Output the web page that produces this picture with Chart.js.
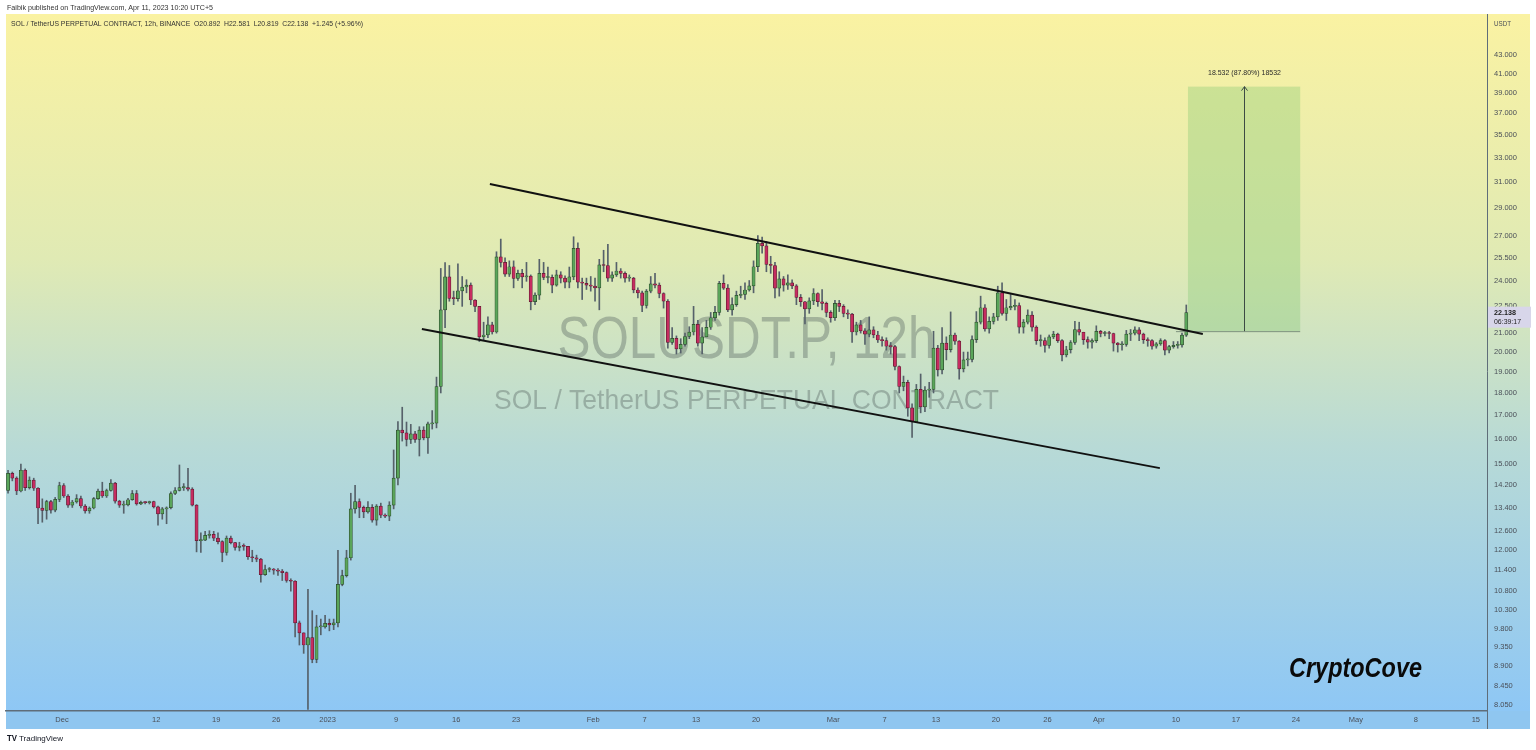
<!DOCTYPE html>
<html>
<head>
<meta charset="utf-8">
<script src="https://cdn.jsdelivr.net/npm/chart.js@4.4.0/dist/chart.umd.min.js"></script>
<style>
  html, body { margin: 0; padding: 0; background: #fff; }
  #wrap { position: relative; width: 1536px; height: 750px; }
</style>
</head>
<body>
<div id="wrap"><canvas id="chart" width="1536" height="750"></canvas></div>
<script>
// SOLUSDT.P 12h candles, first bar opens Nov 24 2022 17:00 (UTC+5)
const firstBar = Date.UTC(2022, 10, 24, 17);
const dayZero = Date.UTC(2022, 11, 1);
const firstOpen = 14.0;

const closes = [
  14.63, 14.45, 13.98, 14.75, 14.1, 14.38, 14.08, 13.38, 13.3, 13.6,
  13.31, 13.68, 14.18, 13.8, 13.48, 13.59, 13.71, 13.45, 13.28, 13.38,
  13.71, 13.98, 13.8, 14.0, 14.27, 13.62, 13.48, 13.49, 13.67, 13.89,
  13.52, 13.58, 13.57, 13.6, 13.42, 13.18, 13.35, 13.39, 13.89, 14.0,
  14.1, 14.1, 14.05, 13.48, 12.3, 12.32, 12.47, 12.5, 12.38, 12.27,
  11.93, 12.38, 12.24, 12.09, 12.13, 12.12, 11.8, 11.77, 11.73, 11.27,
  11.42, 11.43, 11.4, 11.37, 11.33, 11.1, 11.08, 9.95, 9.7, 9.4,
  9.58, 9.06, 9.85, 9.85, 9.94, 9.9, 9.95, 10.99, 11.24, 11.77,
  13.35, 13.6, 13.4, 13.25, 13.4, 12.97, 13.45, 13.14, 13.1, 13.48,
  14.45, 16.36, 16.24, 15.97, 16.2, 15.97, 16.36, 16.03, 16.62, 16.65,
  18.3, 22.3, 24.28, 22.97, 22.95, 23.42, 23.65, 23.77, 22.87, 22.5,
  20.8, 20.9, 21.45, 21.06, 25.56, 25.2, 24.45, 24.92, 24.18, 24.5,
  24.28, 24.33, 22.77, 23.16, 24.5, 24.24, 24.25, 23.77, 24.4, 24.2,
  23.95, 24.28, 26.13, 23.95, 23.88, 23.77, 23.7, 23.6, 25.04, 25.0,
  24.2, 24.4, 24.65, 24.5, 24.2, 24.2, 23.47, 23.3, 22.55, 23.4,
  23.85, 23.77, 23.26, 22.8, 20.5, 20.72, 20.16, 20.4, 20.82, 21.06,
  21.48, 20.47, 20.8, 21.32, 21.85, 22.15, 23.87, 23.58, 22.3, 22.6,
  23.15, 23.2, 23.47, 23.72, 24.92, 26.47, 26.3, 25.07, 25.0, 23.58,
  24.15, 23.77, 23.9, 23.72, 23.03, 22.77, 22.35, 22.82, 23.26, 22.77,
  22.67, 22.15, 21.85, 22.67, 22.5, 22.1, 22.05, 21.06, 21.45, 21.12,
  20.95, 21.18, 20.9, 20.63, 20.6, 20.3, 20.28, 19.27, 18.3, 18.5,
  17.32, 16.71, 18.17, 17.36, 18.13, 18.17, 20.2, 19.1, 20.47, 20.13,
  20.9, 20.57, 19.15, 19.6, 19.63, 20.65, 21.6, 22.42, 21.23, 21.65,
  21.9, 23.3, 22.1, 22.42, 22.5, 22.55, 21.33, 21.6, 22.0, 21.33,
  20.6, 20.6, 20.35, 20.8, 20.95, 20.6, 19.85, 20.12, 20.5, 21.2,
  21.05, 20.65, 20.52, 20.6, 21.1, 20.98, 21.02, 20.98, 20.47, 20.38,
  20.4, 20.95, 21.0, 21.18, 20.95, 20.65, 20.6, 20.3, 20.43, 20.6,
  20.1, 20.28, 20.35, 20.37, 20.892, 22.138
];

const highs = [
  14.75, 14.68, 14.5, 14.98, 14.8, 14.5, 14.45, 14.1, 13.7, 13.65,
  13.65, 13.75, 14.3, 14.25, 13.85, 13.65, 13.85, 13.8, 13.5, 13.42,
  13.75, 14.05, 14.3, 14.05, 14.4, 14.3, 13.65, 13.62, 13.72, 14.0,
  14.0, 13.62, 13.6, 13.62, 13.62, 13.45, 13.4, 13.42, 13.95, 14.1,
  14.95, 14.25, 14.82, 14.1, 13.5, 12.55, 12.6, 12.62, 12.6, 12.55,
  12.3, 12.45, 12.45, 12.25, 12.25, 12.2, 12.12, 12.0, 11.85, 11.75,
  11.55, 11.48, 11.45, 11.45, 11.42, 11.35, 11.15, 11.1, 10.0, 9.7,
  10.85, 10.27, 10.15, 10.05, 10.15, 10.05, 10.05, 12.0, 11.4, 12.0,
  13.9, 14.19, 13.7, 13.45, 13.6, 13.5, 13.5, 13.55, 13.18, 13.6,
  15.54, 16.72, 17.35, 16.7, 16.6, 16.3, 16.5, 16.5, 16.7, 17.2,
  18.75, 24.81, 25.18, 25.0, 23.4, 25.1, 24.3, 24.1, 23.9, 22.9,
  22.5, 21.6, 21.9, 21.6, 25.9, 26.76, 25.5, 25.3, 25.3, 24.7,
  24.75, 25.2, 24.4, 23.3, 25.4, 25.2, 24.9, 24.4, 24.7, 24.6,
  24.35, 24.9, 26.92, 26.5, 24.2, 24.2, 24.3, 24.2, 25.4, 26.0,
  26.4, 24.6, 25.2, 24.8, 24.6, 24.4, 24.25, 23.6, 23.4, 23.5,
  24.3, 24.5, 23.9, 23.3, 22.9, 21.3, 20.85, 20.7, 21.0, 21.35,
  22.5, 21.7, 21.3, 21.7, 22.15, 22.5, 24.0, 24.4, 23.8, 23.0,
  23.4, 23.7, 23.9, 24.05, 25.3, 27.0, 26.9, 26.6, 25.6, 25.2,
  24.6, 24.3, 24.4, 24.1, 23.8, 23.2, 22.8, 23.0, 23.55, 23.3,
  23.5, 22.75, 22.25, 22.85, 22.85, 22.6, 22.3, 22.1, 21.6, 21.7,
  21.25, 21.9, 21.35, 21.1, 20.8, 20.75, 20.5, 20.35, 19.3, 18.8,
  18.6, 17.5, 18.4, 18.9, 18.3, 18.5, 21.1, 20.35, 21.3, 20.8,
  22.18, 21.0, 20.6, 20.0, 20.0, 20.85, 22.2, 23.1, 22.6, 21.9,
  22.1, 23.7, 23.9, 22.9, 23.2, 22.9, 22.7, 21.75, 22.3, 22.2,
  21.4, 20.9, 20.75, 20.9, 21.1, 21.0, 20.65, 20.3, 20.6, 21.65,
  21.6, 21.05, 20.8, 20.7, 21.4, 21.15, 21.1, 21.1, 21.0, 20.5,
  20.55, 21.15, 21.2, 21.35, 21.3, 21.0, 20.75, 20.65, 20.5, 20.7,
  20.65, 20.35, 20.55, 20.55, 21.0, 22.581
];

const lows = [
  13.9, 14.35, 13.85, 13.95, 14.0, 14.05, 14.0, 12.85, 12.9, 13.0,
  13.2, 13.25, 13.6, 13.75, 13.4, 13.4, 13.55, 13.38, 13.2, 13.2,
  13.35, 13.68, 13.75, 13.75, 13.97, 13.55, 13.4, 13.2, 13.45, 13.65,
  13.48, 13.5, 13.52, 13.52, 13.38, 12.8, 13.0, 12.85, 13.35, 13.85,
  13.98, 14.0, 13.98, 13.45, 11.95, 11.93, 12.3, 12.38, 12.3, 12.2,
  11.65, 11.85, 12.2, 12.0, 11.98, 12.0, 11.72, 11.65, 11.65, 11.05,
  11.25, 11.35, 11.28, 11.25, 11.1, 11.05, 10.8, 9.6, 9.4, 9.2,
  7.96, 8.98, 8.98, 9.65, 9.82, 9.75, 9.78, 9.85, 10.95, 11.2,
  11.7, 13.2, 13.05, 13.05, 13.2, 12.9, 12.8, 13.05, 13.05, 12.95,
  13.35, 14.2, 15.9, 15.7, 15.8, 15.85, 15.3, 15.95, 15.4, 16.4,
  16.45, 18.0, 21.3, 22.8, 22.6, 22.8, 22.5, 23.3, 22.6, 22.2,
  20.55, 20.6, 20.75, 20.95, 21.0, 24.9, 24.3, 24.3, 23.6, 24.05,
  23.6, 24.0, 22.3, 22.6, 22.9, 24.1, 23.9, 23.3, 23.7, 23.9,
  23.6, 23.6, 24.1, 23.6, 22.9, 23.5, 23.4, 22.8, 22.3, 24.6,
  24.0, 24.0, 24.3, 24.2, 23.95, 24.0, 23.3, 23.0, 22.2, 22.4,
  23.3, 23.6, 23.0, 22.4, 20.2, 20.4, 19.9, 19.95, 20.3, 20.7,
  20.9, 20.3, 19.9, 20.8, 21.2, 21.7, 22.0, 23.5, 22.2, 22.0,
  22.5, 23.0, 22.9, 23.4, 23.3, 24.6, 25.8, 24.6, 24.5, 23.0,
  23.1, 23.4, 23.5, 23.55, 22.6, 22.5, 21.5, 22.1, 22.6, 22.5,
  22.3, 21.9, 21.6, 21.7, 22.2, 21.9, 21.8, 20.5, 20.9, 21.0,
  20.4, 20.8, 20.75, 20.5, 20.3, 20.1, 19.9, 19.1, 18.0, 18.1,
  16.95, 16.05, 16.7, 17.1, 17.15, 17.8, 18.0, 18.8, 18.9, 19.6,
  20.0, 20.4, 18.65, 19.0, 19.3, 19.5, 20.5, 21.5, 21.1, 21.0,
  21.5, 21.7, 22.0, 21.7, 22.3, 22.3, 21.0, 21.0, 21.5, 21.1,
  20.4, 20.3, 20.0, 20.2, 20.7, 20.5, 19.55, 19.75, 19.95, 20.4,
  20.9, 20.4, 20.2, 20.2, 20.5, 20.8, 20.85, 20.7, 20.05, 20.0,
  20.1, 20.3, 20.6, 20.9, 20.6, 20.45, 20.3, 20.15, 20.2, 20.35,
  19.85, 19.95, 20.2, 20.2, 20.25, 20.819
];

const tickDates = [
  "2022-12-01", "2022-12-12", "2022-12-19", "2022-12-26", "2023-01-01", "2023-01-09",
  "2023-01-16", "2023-01-23", "2023-02-01", "2023-02-07", "2023-02-13", "2023-02-20",
  "2023-03-01", "2023-03-07", "2023-03-13", "2023-03-20", "2023-03-26", "2023-04-01",
  "2023-04-10", "2023-04-17", "2023-04-24", "2023-05-01", "2023-05-08", "2023-05-15"
];
const tickLabels = [
  "Dec", "12", "19", "26", "2023", "9", "16", "23", "Feb", "7", "13", "20",
  "Mar", "7", "13", "20", "26", "Apr", "10", "17", "24", "May", "8", "15"
];
const priceTicks = [
  8.05, 8.45, 8.9, 9.35, 9.8, 10.3, 10.8, 11.4, 12, 12.6, 13.4, 14.2, 15, 16, 17,
  18, 19, 20, 21, 22.5, 24, 25.5, 27, 29, 31, 33, 35, 37, 39, 41, 43
];

// falling channel drawn on the chart
const upperDates = ["2023-01-19T22:30", "2023-04-13T03:20"];
const upperPrices = [30.84, 20.95];
const lowerDates = ["2023-01-12T00:00", "2023-04-08T03:00"];
const lowerPrices = [21.22, 14.83];
// long position target box
const targetDates = ["2023-04-11T09:40", "2023-04-24T12:00"];
const targetPrices = [21.108, 39.64];

const FONT = '"Liberation Sans", Arial, sans-serif';
const day = s => (Date.parse(s + (s.length > 10 ? ':00Z' : 'T00:00:00Z')) - dayZero) / 864e5;

const barDays = closes.map((c, i) => (firstBar - dayZero) / 864e5 + i * 0.5);
const opens = closes.map((c, i) => (i ? closes[i - 1] : firstOpen));
const isUp = closes.map((c, i) => c >= opens[i]);

function squeeze(ctx, text, x, y, font, width, align) {
  ctx.font = font;
  const w = ctx.measureText(text).width;
  ctx.save();
  ctx.translate(x, y);
  ctx.scale(width / w, 1);
  ctx.textAlign = align || 'left';
  ctx.fillText(text, 0, 0);
  ctx.restore();
}

const decor = {
  id: 'decor',
  beforeDraw(chart) {
    const { ctx, chartArea: a } = chart;
    ctx.save();
    ctx.fillStyle = '#ffffff';
    ctx.fillRect(0, 0, chart.width, chart.height);
    const g = ctx.createLinearGradient(0, a.top, 0, a.bottom);
    g.addColorStop(0, '#faf2a2');
    g.addColorStop(0.35, '#e0eab4');
    g.addColorStop(0.62, '#b8dad6');
    g.addColorStop(1, '#8ec7f5');
    ctx.fillStyle = g;
    ctx.fillRect(6, a.top, 1524, a.bottom - a.top);
    ctx.fillStyle = '#8fc6f0';
    ctx.fillRect(6, a.bottom, 1524, 18);
    ctx.restore();
  },
  beforeDatasetsDraw(chart) {
    const { ctx, chartArea: a } = chart;
    const cx = (a.left + a.right) / 2;
    ctx.save();
    ctx.fillStyle = 'rgba(85,98,95,0.38)';
    ctx.textBaseline = 'alphabetic';
    squeeze(ctx, 'SOLUSDT.P, 12h', cx, 358, '60px ' + FONT, 378, 'center');
    squeeze(ctx, 'SOL / TetherUS PERPETUAL CONTRACT', cx, 409, '28px ' + FONT, 505, 'center');
    ctx.restore();
  },
  afterDatasetsDraw(chart) {
    const { ctx } = chart;
    const xs = chart.scales.x, ys = chart.scales.y;
    ctx.save();
    // target box
    const bx0 = xs.getPixelForValue(day(targetDates[0]));
    const bx1 = xs.getPixelForValue(day(targetDates[1]));
    const by0 = ys.getPixelForValue(targetPrices[0]);
    const by1 = ys.getPixelForValue(targetPrices[1]);
    ctx.fillStyle = 'rgba(120,195,110,0.32)';
    ctx.fillRect(bx0, by1, bx1 - bx0, by0 - by1);
    ctx.strokeStyle = '#7d927d';
    ctx.lineWidth = 1;
    ctx.beginPath();
    ctx.moveTo(bx0 - 12, by0 + 0.5);
    ctx.lineTo(bx1, by0 + 0.5);
    ctx.stroke();
    const mx = Math.round((bx0 + bx1) / 2) + 0.5;
    ctx.strokeStyle = '#3c4a44';
    ctx.beginPath();
    ctx.moveTo(mx, by0);
    ctx.lineTo(mx, by1);
    ctx.moveTo(mx - 3, by1 + 4);
    ctx.lineTo(mx, by1);
    ctx.lineTo(mx + 3, by1 + 4);
    ctx.stroke();
    ctx.fillStyle = '#2a2a2a';
    ctx.textBaseline = 'middle';
    squeeze(ctx, '18.532 (87.80%) 18532', mx, by1 - 14, '8px ' + FONT, 73, 'center');
    // channel lines
    ctx.strokeStyle = '#111111';
    ctx.lineWidth = 2;
    [[upperDates, upperPrices], [lowerDates, lowerPrices]].forEach(([d, p]) => {
      ctx.beginPath();
      ctx.moveTo(xs.getPixelForValue(day(d[0])), ys.getPixelForValue(p[0]));
      ctx.lineTo(xs.getPixelForValue(day(d[1])), ys.getPixelForValue(p[1]));
      ctx.stroke();
    });
    ctx.restore();
  },
  afterDraw(chart) {
    const { ctx, chartArea: a } = chart;
    const ys = chart.scales.y;
    ctx.save();
    // axis separators
    ctx.strokeStyle = '#5f6d79';
    ctx.lineWidth = 1;
    ctx.beginPath();
    ctx.moveTo(a.right + 0.5, a.top);
    ctx.lineTo(a.right + 0.5, a.bottom + 18);
    ctx.stroke();
    // header + legend
    ctx.textBaseline = 'middle';
    ctx.fillStyle = '#333';
    squeeze(ctx, 'Faibik published on TradingView.com, Apr 11, 2023 10:20 UTC+5', 7, 8, '8px ' + FONT, 206);
    squeeze(ctx, 'SOL / TetherUS PERPETUAL CONTRACT, 12h, BINANCE  O20.892  H22.581  L20.819  C22.138  +1.245 (+5.96%)',
      11, 24, '8px ' + FONT, 352);
    ctx.fillStyle = '#4a4f58';
    squeeze(ctx, 'USDT', 1494, 24, '8px ' + FONT, 17);
    // last price label
    const py = ys.getPixelForValue(closes[closes.length - 1]);
    ctx.fillStyle = '#d8d6ea';
    ctx.fillRect(a.right + 1, py - 6, 43, 21);
    ctx.fillStyle = '#222';
    squeeze(ctx, closes[closes.length - 1].toFixed(3), 1494, py, 'bold 8px ' + FONT, 22);
    squeeze(ctx, '06:39:17', 1494, py + 9, '8px ' + FONT, 27);
    // signature
    ctx.fillStyle = '#0a0a0a';
    ctx.textBaseline = 'alphabetic';
    squeeze(ctx, 'CryptoCove', 1289, 677, 'bold italic 28px ' + FONT, 133);
    // footer logo
    ctx.textBaseline = 'middle';
    ctx.fillStyle = '#131722';
    squeeze(ctx, 'TV', 7, 739, 'bold 9px ' + FONT, 10);
    squeeze(ctx, 'TradingView', 19, 739, '8px ' + FONT, 44);
    ctx.restore();
  }
};

new Chart(document.getElementById('chart'), {
  type: 'bar',
  data: {
    datasets: [
      {
        label: 'wick',
        data: barDays.map((x, i) => ({ x, y: [Math.min(lows[i], opens[i], closes[i]), Math.max(highs[i], opens[i], closes[i])] })),
        backgroundColor: '#56616a',
        barThickness: 1,
        grouped: false,
        order: 2
      },
      {
        label: 'body',
        data: barDays.map((x, i) => ({ x, y: [opens[i], closes[i]] })),
        backgroundColor: isUp.map(u => (u ? '#5aa55a' : '#c62c60')),
        borderColor: isUp.map(u => (u ? '#2c4a2c' : '#5e1b30')),
        borderWidth: 0.7,
        borderSkipped: false,
        barThickness: 3.2,
        minBarLength: 1,
        grouped: false,
        order: 1
      }
    ]
  },
  options: {
    responsive: false,
    animation: false,
    devicePixelRatio: 1,
    layout: { padding: { left: 6, top: 14, right: 0, bottom: 21 } },
    plugins: { legend: { display: false }, tooltip: { enabled: false } },
    scales: {
      x: {
        type: 'linear',
        min: -6.53,
        max: 166.3,
        offset: false,
        grid: { display: false, drawTicks: false },
        border: { display: true, color: '#5f6d79', width: 1.5 },
        afterBuildTicks: s => { s.ticks = tickDates.map(d => ({ value: day(d) })); },
        afterFit: s => { s.height = 18; },
        ticks: {
          autoSkip: false,
          maxRotation: 0,
          padding: 4,
          color: '#4a4f58',
          font: { family: FONT, size: 7.5 },
          callback: (v, i) => tickLabels[i]
        }
      },
      y: {
        type: 'logarithmic',
        position: 'right',
        min: 7.93,
        max: 47.8,
        offset: false,
        grid: { display: false, drawTicks: false },
        border: { display: false },
        afterBuildTicks: s => { s.ticks = priceTicks.map(v => ({ value: v })); },
        afterFit: s => { s.width = 49; },
        ticks: {
          autoSkip: false,
          padding: 7,
          color: '#4a4f58',
          font: { family: FONT, size: 7.5 },
          callback: v => Number(v).toFixed(3)
        }
      }
    }
  },
  plugins: [decor]
});
</script>
</body>
</html>
